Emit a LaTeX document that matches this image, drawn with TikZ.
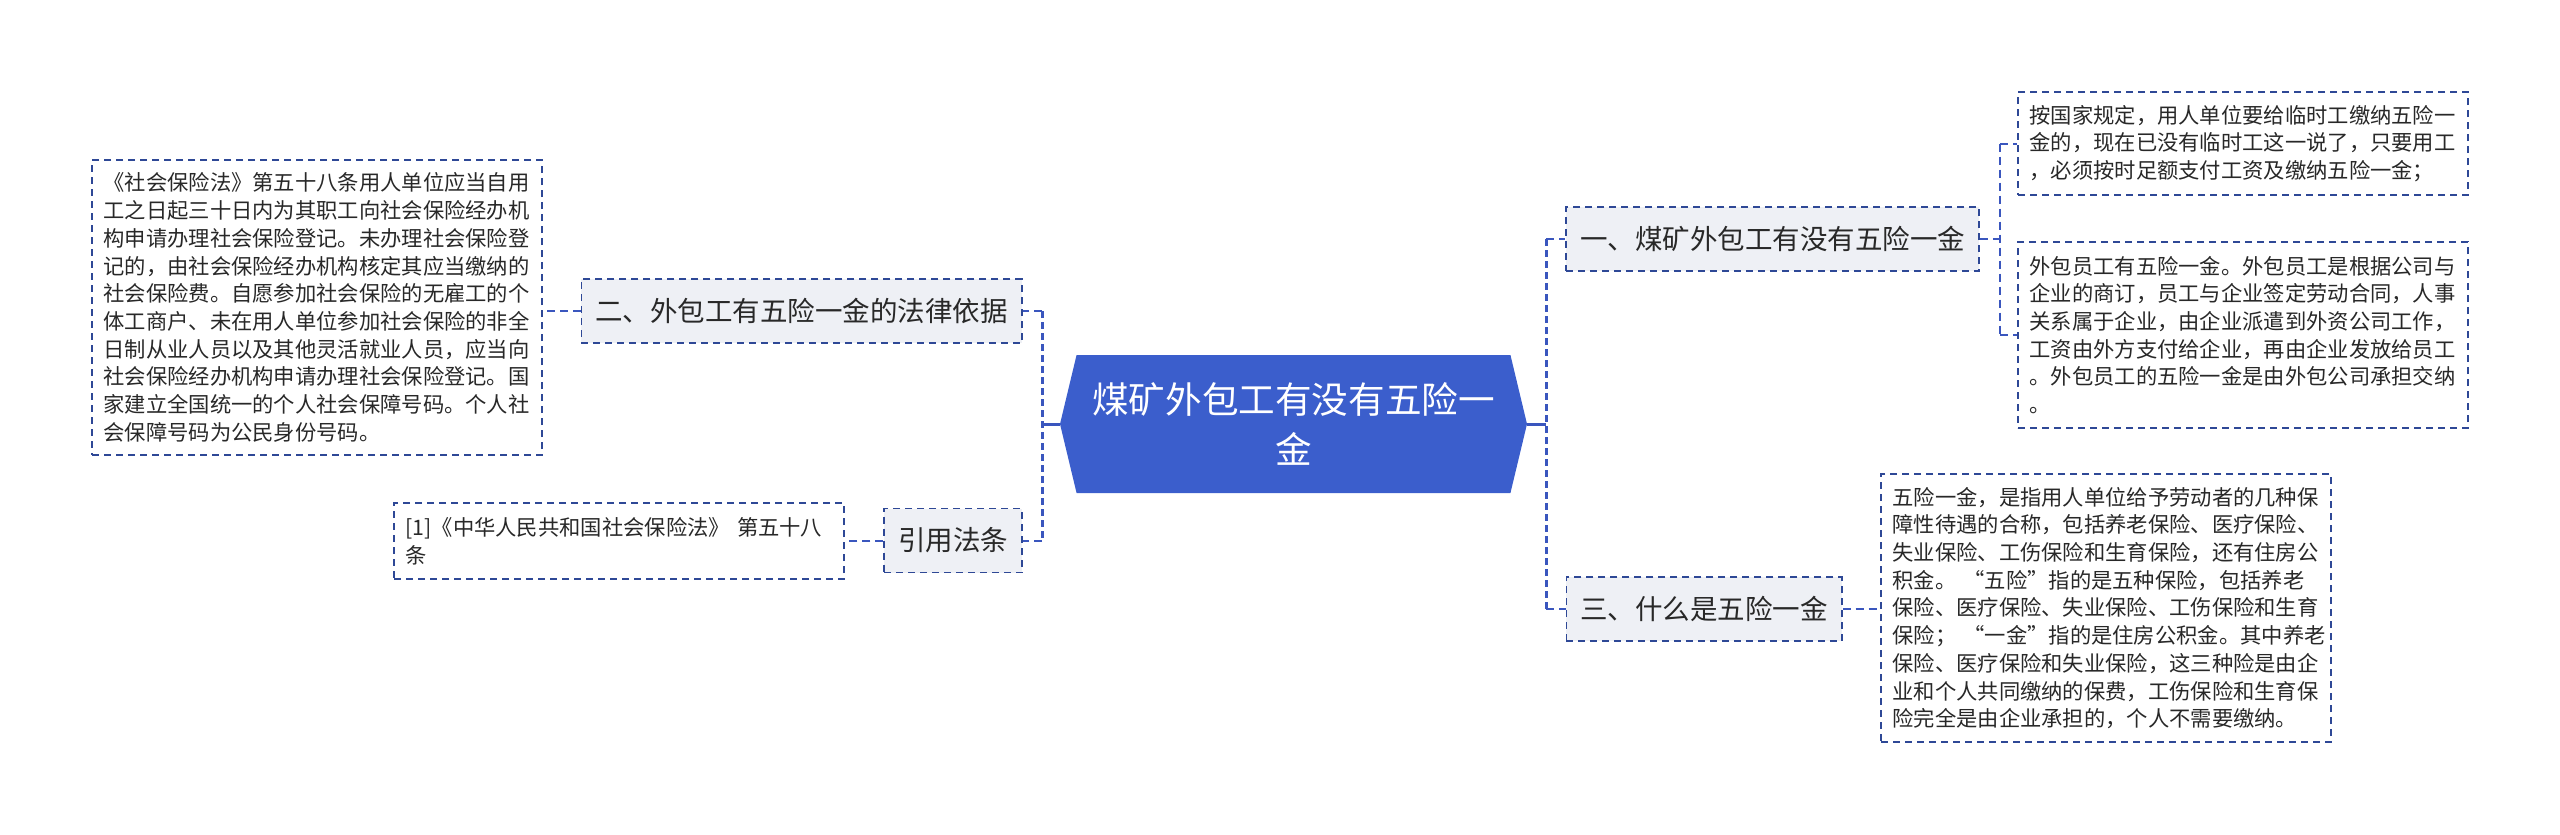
\documentclass[tikz,border=0pt]{standalone}
\usepackage{fontspec}
\setmainfont{Noto Sans CJK SC}
\usetikzlibrary{shapes.symbols}

\definecolor{rootblue}{RGB}{59,94,204}
\definecolor{linkblue}{RGB}{58,86,190}
\definecolor{edgeblue}{RGB}{46,72,150}
\definecolor{topicgray}{RGB}{238,240,245}
\definecolor{inkgray}{RGB}{40,40,40}

\begin{document}
\begin{tikzpicture}[
        x=1pt, y=-1pt,
        root/.style={signal, signal to=east and west, signal pointer angle=153, fill=rootblue, text=white, minimum width=467pt, minimum height=138pt, inner sep=0pt, align=center, font=\fontsize{36.6pt}{50pt}\selectfont},
        topic/.style={draw=edgeblue, line width=1.5pt, dash pattern=on 7pt off 5pt, fill=topicgray, text=inkgray, minimum height=64pt, inner xsep=14pt, inner ysep=0pt, font=\fontsize{27.5pt}{33pt}\selectfont},
        note/.style={draw=edgeblue, line width=1.5pt, dash pattern=on 7pt off 5pt, fill=white, text=inkgray, text width=427pt, inner xsep=11.5pt, inner ysep=0pt, align=left, font=\fontsize{21.3pt}{27.7pt}\selectfont},
        trunk/.style={draw=linkblue, line width=3pt, dash pattern=on 7pt off 4pt},
        twig/.style={draw=linkblue, line width=2pt, dash pattern=on 8pt off 5pt}
    ]
    \useasboundingbox (0,0) rectangle (2560,835);

    % centre
    \node[root] (root) at (1293.5,424) {煤矿外包工有没有五险一\\金};

    % left side
    \node[topic] (basis) at (801.5,311) {二、外包工有五险一金的法律依据};
    \node[topic] (cite) at (953,540.5) {引用法条};
    \node[note, minimum height=295pt] (basisnote) at (317,307.5) {%
        《社会保险法》第五十八条用人单位应当自用\\
        工之日起三十日内为其职工向社会保险经办机\\
        构申请办理社会保险登记。未办理社会保险登\\
        记的，由社会保险经办机构核定其应当缴纳的\\
        社会保险费。自愿参加社会保险的无雇工的个\\
        体工商户、未在用人单位参加社会保险的非全\\
        日制从业人员以及其他灵活就业人员，应当向\\
        社会保险经办机构申请办理社会保险登记。国\\
        家建立全国统一的个人社会保障号码。个人社\\
        会保障号码为公民身份号码。};
    \node[note, minimum height=76pt] (citenote) at (619,541) {%
        [1]《中华人民共和国社会保险法》~第五十八\\
        条};

    % right side
    \node[topic] (whether) at (1772.5,239) {一、煤矿外包工有没有五险一金};
    \node[topic] (what) at (1704,609) {三、什么是五险一金};
    \node[note, minimum height=103pt] (tempnote) at (2243,143.5) {%
        按国家规定，用人单位要给临时工缴纳五险一\\
        金的，现在已没有临时工这一说了，只要用工\\
        ，必须按时足额支付工资及缴纳五险一金；};
    \node[note, minimum height=186pt] (outnote) at (2243,335) {%
        外包员工有五险一金。外包员工是根据公司与\\
        企业的商订，员工与企业签定劳动合同，人事\\
        关系属于企业，由企业派遣到外资公司工作，\\
        工资由外方支付给企业，再由企业发放给员工\\
        。外包员工的五险一金是由外包公司承担交纳\\
        。};
    \node[note, minimum height=268pt] (whatnote) at (2106,608) {%
        五险一金，是指用人单位给予劳动者的几种保\\
        障性待遇的合称，包括养老保险、医疗保险、\\
        失业保险、工伤保险和生育保险，还有住房公\\
        积金。~“五险”指的是五种保险，包括养老\\
        保险、医疗保险、失业保险、工伤保险和生育\\
        保险；~“一金”指的是住房公积金。其中养老\\
        保险、医疗保险和失业保险，这三种险是由企\\
        业和个人共同缴纳的保费，工伤保险和生育保\\
        险完全是由企业承担的，个人不需要缴纳。};

    % connectors
    \coordinate (lfork) at (1042,424);
    \coordinate (rfork) at (1546,424);
    \coordinate (wfork) at (2000,239);

    \draw[linkblue, line width=3pt] (root.west) -- (lfork);
    \draw[linkblue, line width=3pt] (root.east) -- (rfork);
    \draw[trunk] (lfork |- basis.east) -- (lfork |- cite.east);
    \draw[trunk] (rfork |- whether.west) -- (rfork |- what.west);
    \draw[twig] (lfork |- basis.east) -- (basis.east);
    \draw[twig] (lfork |- cite.east) -- (cite.east);
    \draw[twig] (rfork |- whether.west) -- (whether.west);
    \draw[twig] (rfork |- what.west) -- (what.west);

    \draw[twig] (basis.west) -- (basisnote.east |- basis.west);
    \draw[twig] (cite.west) -- (citenote.east |- cite.west);
    \draw[twig] (what.east) -- (whatnote.west |- what.east);

    \draw[twig] (whether.east) -- (wfork);
    \draw[twig] (wfork |- tempnote.west) -- (wfork |- outnote.west);
    \draw[twig] (wfork |- tempnote.west) -- (tempnote.west);
    \draw[twig] (wfork |- outnote.west) -- (outnote.west);
\end{tikzpicture}
\end{document}
